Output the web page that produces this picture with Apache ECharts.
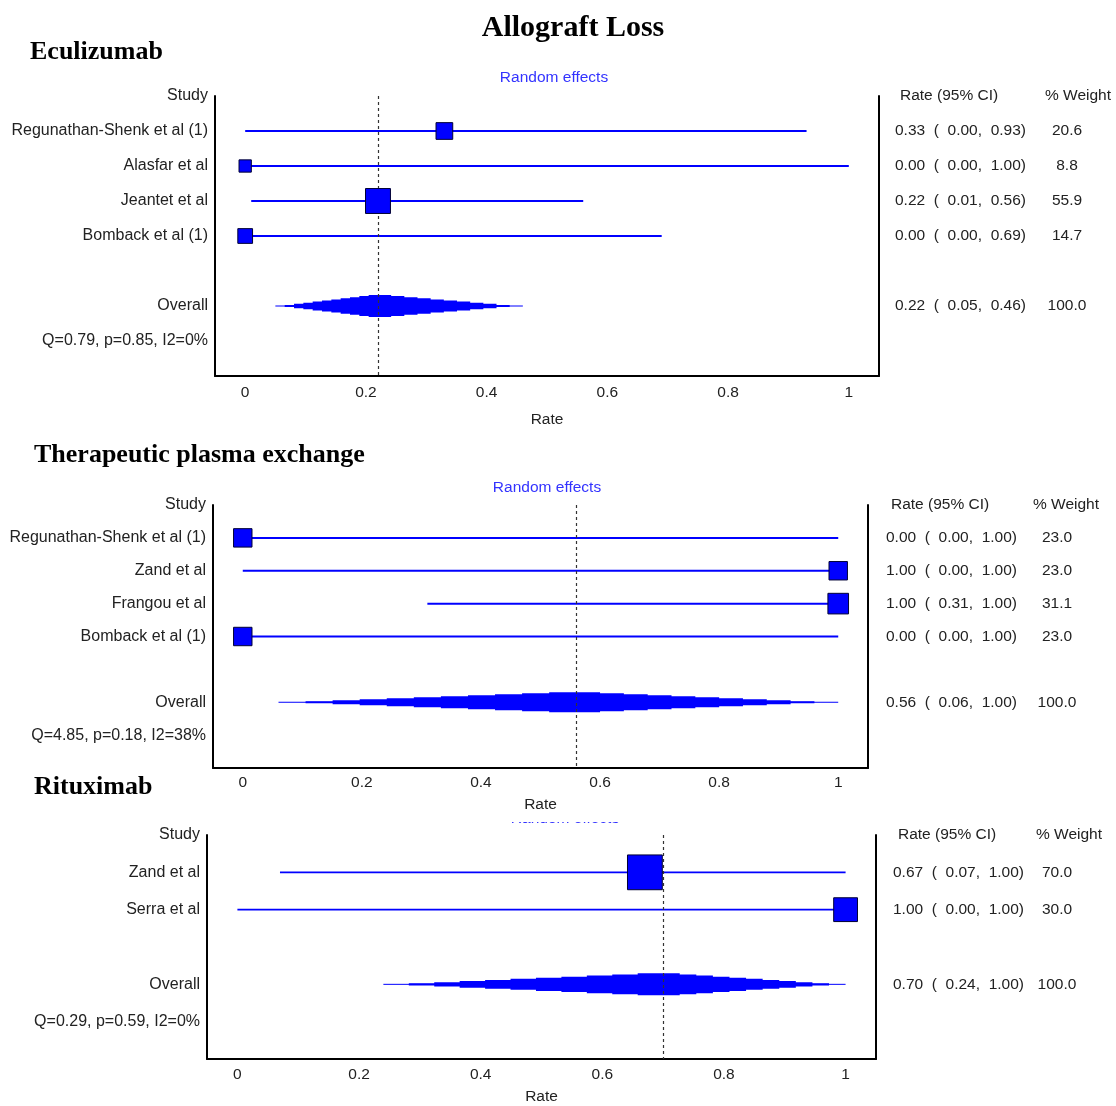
<!DOCTYPE html>
<html><head><meta charset="utf-8">
<script src="https://cdn.jsdelivr.net/npm/echarts@6/dist/echarts.min.js"></script>
<style>html,body{margin:0;padding:0;background:#fff}#c{width:1116px;height:1106px}</style>
</head><body><div id="c"></div>
<script>
// ---------- DATA ----------
const mainTitle = 'Allograft Loss';
const panelTitles = ['Eculizumab', 'Therapeutic plasma exchange', 'Rituximab'];
const modelLabel = 'Random effects';
const xTicks = [0, 0.2, 0.4, 0.6, 0.8, 1];
const overallWeightLabel = '100.0';

// Eculizumab
const p1Studies = ['Regunathan-Shenk et al (1)', 'Alasfar et al', 'Jeantet et al', 'Bomback et al (1)'];
const p1Rate   = [0.33, 0.00, 0.22, 0.00];
const p1Lower  = [0.00, 0.00, 0.01, 0.00];
const p1Upper  = [0.93, 1.00, 0.56, 0.69];
const p1Weight = [20.6, 8.8, 55.9, 14.7];
const p1Overall = [0.22, 0.05, 0.46]; // estimate, lower, upper
const p1Het = 'Q=0.79, p=0.85, I2=0%';

// Therapeutic plasma exchange
const p2Studies = ['Regunathan-Shenk et al (1)', 'Zand et al', 'Frangou et al', 'Bomback et al (1)'];
const p2Rate   = [0.00, 1.00, 1.00, 0.00];
const p2Lower  = [0.00, 0.00, 0.31, 0.00];
const p2Upper  = [1.00, 1.00, 1.00, 1.00];
const p2Weight = [23.0, 23.0, 31.1, 23.0];
const p2Overall = [0.56, 0.06, 1.00];
const p2Het = 'Q=4.85, p=0.18, I2=38%';

// Rituximab
const p3Studies = ['Zand et al', 'Serra et al'];
const p3Rate   = [0.67, 1.00];
const p3Lower  = [0.07, 0.00];
const p3Upper  = [1.00, 1.00];
const p3Weight = [70.0, 30.0];
const p3Overall = [0.70, 0.24, 1.00];
const p3Het = 'Q=0.29, p=0.59, I2=0%';

// ---------- LAYOUT / STYLE ----------
const panels = [
  {studies: p1Studies, rate: p1Rate, lower: p1Lower, upper: p1Upper, weight: p1Weight, overall: p1Overall, het: p1Het},
  {studies: p2Studies, rate: p2Rate, lower: p2Lower, upper: p2Upper, weight: p2Weight, overall: p2Overall, het: p2Het},
  {studies: p3Studies, rate: p3Rate, lower: p3Lower, upper: p3Upper, weight: p3Weight, overall: p3Overall, het: p3Het}
];
const layout = [
  {left: 215, width: 664, top: 96, height: 280, nameGap: 36, labelMargin: 9, colA: 150, colB: 44, rMargin: 16, sqBase: 4, sqK: 2.8, dH: 22, ciW: 2},
  {left: 213, width: 655, top: 505, height: 263, nameGap: 29, labelMargin: 7, colA: 147, colB: 48, rMargin: 18, sqBase: 5, sqK: 2.8, dH: 20, ciW: 2},
  {left: 207, width: 669, top: 835, height: 240, nameGap: 30, labelMargin: 8, colA: 143, colB: 42, rMargin: 17, sqBase: 3, sqK: 3.8, dH: 22, ciW: 1.6}
];
const FONT = '"Liberation Sans", Arial, sans-serif';
const TXT = '#222';
const BLUE = '#0000ff';
const fmt = v => v.toFixed(2);

const grids = [], xAxes = [], yAxes = [], series = [];

panels.forEach((p, i) => {
  const L = layout[i];
  const n = p.studies.length;
  const maxRow = n + 4;
  grids.push({left: L.left, top: L.top, width: L.width, height: L.height, containLabel: false});

  xAxes.push({
    type: 'value', gridIndex: i, min: -0.05, max: 1.05, position: 'bottom',
    axisLine: {show: true, onZero: false, lineStyle: {color: '#000', width: 2}},
    axisTick: {show: false},
    splitLine: {show: false},
    axisLabel: {customValues: xTicks, formatter: v => String(+v.toFixed(2)), color: TXT, fontFamily: FONT, fontSize: 15.5, margin: L.labelMargin},
    name: 'Rate', nameLocation: 'middle', nameGap: L.nameGap,
    nameTextStyle: {color: TXT, fontFamily: FONT, fontSize: 15.5}
  });

  const leftLabel = idx => {
    if (idx === 0) return 'Study';
    if (idx >= 1 && idx <= n) return p.studies[idx - 1];
    if (idx === n + 2) return 'Overall';
    if (idx === n + 3) return p.het;
    return '';
  };
  const rightLabel = idx => {
    if (idx === 0) return '{h1|Rate (95% CI)}{h2|% Weight}';
    if (idx >= 1 && idx <= n) {
      const j = idx - 1;
      return '{a|' + fmt(p.rate[j]) + '  (  ' + fmt(p.lower[j]) + ',  ' + fmt(p.upper[j]) + ')}{b|' + p.weight[j].toFixed(1) + '}';
    }
    if (idx === n + 2) {
      return '{a|' + fmt(p.overall[0]) + '  (  ' + fmt(p.overall[1]) + ',  ' + fmt(p.overall[2]) + ')}{b|' + overallWeightLabel + '}';
    }
    return '';
  };

  yAxes.push({
    type: 'value', gridIndex: i, min: 0, max: maxRow, interval: 1, inverse: true, position: 'left',
    axisLine: {show: true, onZero: false, lineStyle: {color: '#000', width: 2}},
    axisTick: {show: false}, splitLine: {show: false},
    axisLabel: {formatter: v => leftLabel(Math.round(v)), color: TXT, fontFamily: FONT, fontSize: 16, margin: 7, showMinLabel: true, showMaxLabel: true}
  });
  yAxes.push({
    type: 'value', gridIndex: i, min: 0, max: maxRow, interval: 1, inverse: true, position: 'right',
    axisLine: {show: true, onZero: false, lineStyle: {color: '#000', width: 2}},
    axisTick: {show: false}, splitLine: {show: false},
    axisLabel: {
      formatter: v => rightLabel(Math.round(v)), margin: L.rMargin, showMinLabel: true, showMaxLabel: true,
      color: TXT, fontFamily: FONT, fontSize: 15.5,
      rich: {
        a: {width: L.colA, align: 'left', color: TXT, fontFamily: FONT, fontSize: 15.5},
        b: {width: L.colB, align: 'center', color: TXT, fontFamily: FONT, fontSize: 15.5},
        h1: {width: L.colA - 5, padding: [0, 0, 0, 5], align: 'left', color: TXT, fontFamily: FONT, fontSize: 15.5},
        h2: {align: 'left', color: TXT, fontFamily: FONT, fontSize: 15.5}
      }
    }
  });

  const yIdx = 2 * i;

  // confidence interval lines
  series.push({
    type: 'custom', xAxisIndex: i, yAxisIndex: yIdx, clip: false, z: 3,
    data: p.studies.map((s, j) => [p.lower[j], p.upper[j], j + 1]),
    encode: {x: [0, 1], y: 2},
    renderItem: (params, api) => {
      const a = api.coord([api.value(0), api.value(2)]);
      const b = api.coord([api.value(1), api.value(2)]);
      return {type: 'line', shape: {x1: a[0], y1: a[1], x2: b[0], y2: b[1]}, style: {stroke: BLUE, lineWidth: L.ciW}};
    }
  });

  // point estimates (square sized by weight)
  series.push({
    type: 'scatter', xAxisIndex: i, yAxisIndex: yIdx, symbol: 'rect', clip: false, z: 5,
    data: p.studies.map((s, j) => [p.rate[j], j + 1, p.weight[j]]),
    symbolSize: val => L.sqBase + L.sqK * Math.sqrt(val[2]),
    itemStyle: {color: BLUE, borderColor: '#000033', borderWidth: 1, opacity: 1}
  });

  // overall diamond (stepped) + reference line
  series.push({
    type: 'custom', xAxisIndex: i, yAxisIndex: yIdx, clip: false, z: 4,
    data: [[p.overall[1], p.overall[0], p.overall[2], n + 2]],
    encode: {x: [0, 1, 2], y: 3},
    renderItem: (params, api) => {
      const lo = api.coord([api.value(0), api.value(3)]);
      const es = api.coord([api.value(1), api.value(3)]);
      const hi = api.coord([api.value(2), api.value(3)]);
      const N = 10;
      const children = [{type: 'line', shape: {x1: lo[0], y1: lo[1], x2: hi[0], y2: hi[1]}, style: {stroke: BLUE, lineWidth: 1}}];
      for (let k = 1; k <= N; k++) {
        const t = k / (N + 1);
        const x0 = lo[0] + (es[0] - lo[0]) * t;
        const x1 = hi[0] - (hi[0] - es[0]) * t;
        const h = Math.max(2, L.dH * k / N);
        children.push({type: 'rect', shape: {x: x0, y: es[1] - h / 2, width: x1 - x0, height: h}, style: {fill: BLUE}});
      }
      return {type: 'group', children};
    },
    markLine: {
      silent: true, symbol: 'none', label: {show: false},
      lineStyle: {color: '#333', type: [3, 3], width: 1.2},
      data: [{xAxis: p.overall[0]}]
    }
  });
});

const titleFont = 'bold 26px "Liberation Serif", "Times New Roman", serif';
const graphic = [
  {type: 'text', z: 10, x: 573, y: 28, style: {text: mainTitle, font: 'bold 30px "Liberation Serif", "Times New Roman", serif', fill: '#000', textAlign: 'center', textVerticalAlign: 'middle'}},
  {type: 'text', z: 10, x: 30, y: 52, style: {text: panelTitles[0], font: titleFont, fill: '#000', textVerticalAlign: 'middle'}},
  {type: 'text', z: 10, x: 34, y: 455, style: {text: panelTitles[1], font: titleFont, fill: '#000', textVerticalAlign: 'middle'}},
  {type: 'text', z: 10, x: 34, y: 787, style: {text: panelTitles[2], font: titleFont, fill: '#000', textVerticalAlign: 'middle'}},
  {type: 'text', z: 10, x: 554, y: 78, style: {text: modelLabel, font: '15.5px ' + FONT, fill: '#3333ff', textAlign: 'center', textVerticalAlign: 'middle'}},
  {type: 'text', z: 10, x: 547, y: 488, style: {text: modelLabel, font: '15.5px ' + FONT, fill: '#3333ff', textAlign: 'center', textVerticalAlign: 'middle'}},
  {type: 'text', z: 10, x: 565, y: 827, style: {text: modelLabel, font: '15.5px ' + FONT, fill: '#3333ff', textAlign: 'center', textVerticalAlign: 'bottom'}},
  {type: 'rect', z: 20, shape: {x: 500, y: 811, width: 135, height: 11}, style: {fill: '#fff'}}
];

const chart = echarts.init(document.getElementById('c'));
chart.setOption({
  backgroundColor: '#fff',
  animation: false,
  grid: grids, xAxis: xAxes, yAxis: yAxes, series, graphic
});
</script>
</body></html>
